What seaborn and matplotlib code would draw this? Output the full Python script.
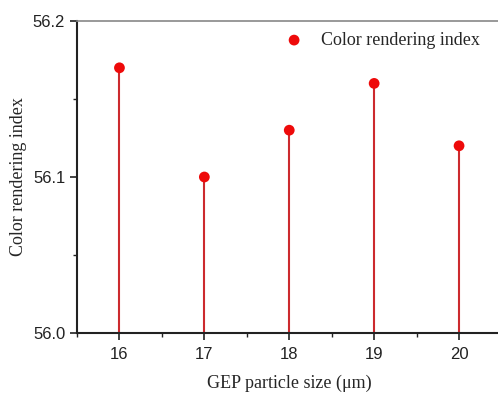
import matplotlib
matplotlib.use("Agg")
import matplotlib.pyplot as plt
import seaborn as sns
import pandas as pd
from matplotlib.ticker import MultipleLocator

sizes = [16, 17, 18, 19, 20]
cri = [56.17, 56.10, 56.13, 56.16, 56.12]
y_ticks = [56.0, 56.1, 56.2]
x_ticks = [16, 17, 18, 19, 20]

df = pd.DataFrame({"size": sizes, "cri": cri})

sns.set_style("ticks")
fig = plt.figure(figsize=(4.98, 3.94), dpi=100)
ax = fig.add_axes([77/498, 1 - 333/394, (501.5 - 77)/498, (333 - 21)/394])

ax.vlines(df["size"], 56.0, df["cri"], color="#cc2a2e", linewidth=1.5, zorder=2)
sns.scatterplot(data=df, x="size", y="cri", ax=ax, color="#ee0a0a", s=60,
                edgecolor="none", label="Color rendering index", zorder=3)

ax.set_xlim(15.5, 20.5)
ax.set_ylim(56.0, 56.2)
ax.set_xticks(x_ticks)
ax.set_yticks(y_ticks)
ax.set_yticklabels([f"{v:.1f}" for v in y_ticks])
ax.xaxis.set_minor_locator(MultipleLocator(0.5))
ax.yaxis.set_minor_locator(MultipleLocator(0.05))
ax.tick_params(which="major", direction="out", length=5, width=1.2, labelsize=12,
               colors="#222222")
ax.tick_params(axis="x", which="major", pad=5)
ax.tick_params(which="minor", direction="out", length=3, width=1.0, colors="#222222")
for lab in ax.get_xticklabels() + ax.get_yticklabels():
    lab.set_fontfamily("Liberation Sans")

for s in ["left", "bottom"]:
    ax.spines[s].set_color("#222222")
    ax.spines[s].set_linewidth(1.5)
ax.spines["top"].set_color("#888888")
ax.spines["top"].set_linewidth(1.2)
ax.spines["right"].set_visible(False)

ax.set_xlabel("GEP particle size (\u03bcm)", fontfamily="Liberation Serif", fontsize=13,
              labelpad=9)
ax.set_ylabel("Color rendering index", fontfamily="Liberation Serif", fontsize=13,
              labelpad=4)

leg = ax.legend(loc="upper right", bbox_to_anchor=(0.975, 1.0), frameon=False,
                prop={"family": "Liberation Serif", "size": 13},
                handletextpad=0.5, borderaxespad=0.2, markerscale=1.0)

fig.savefig("out.png", dpi=100)
